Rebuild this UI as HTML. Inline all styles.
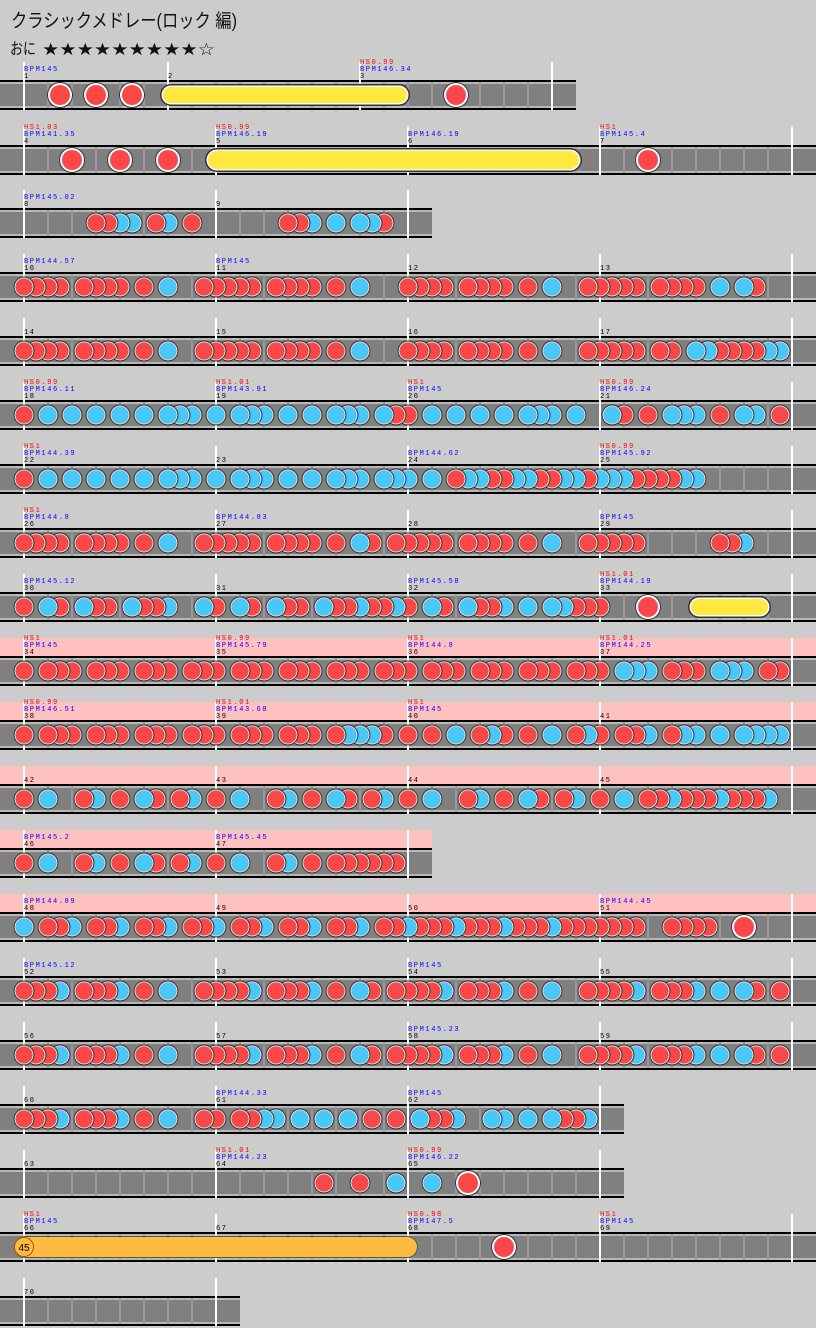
<!DOCTYPE html>
<html><head><meta charset="utf-8"><style>
html,body{margin:0;padding:0;background:#cccccc;}
svg{display:block;}
</style></head><body>
<svg id="s" width="816" height="1328" xmlns="http://www.w3.org/2000/svg">
<rect width="816" height="1328" fill="#cccccc"/>
<text x="11" y="27" font-family="Liberation Sans, Noto Sans CJK JP, sans-serif" font-size="19" textLength="226" lengthAdjust="spacingAndGlyphs" fill="#111">クラシックメドレー(ロック 編)</text>
<text x="10" y="54" font-family="Liberation Sans, Noto Sans CJK JP, sans-serif" font-size="16" textLength="26" lengthAdjust="spacingAndGlyphs" fill="#111">おに</text>
<text x="42" y="55" font-family="DejaVu Sans, sans-serif" font-size="17" textLength="173" lengthAdjust="spacingAndGlyphs" fill="#111">★★★★★★★★★☆</text>
<g id="g"></g>
</svg>
<script>
var rows=[
{w:576,ms:[[1,144,'','BPM145','...D..D..D..'],[2,192,'','',''],[3,192,'HS0.99','BPM146.34','........D.......']],rolls:[[160,410,0]]},
{w:816,ms:[[4,192,'HS1.03','BPM141.35','....D...D...D...'],[5,192,'HS0.99','BPM146.19',''],[6,192,'','BPM146.19',''],[7,192,'HS1','BPM145.4','....D...........']],rolls:[[205,582,1]]},
{w:432,ms:[[8,192,'','BPM145.02','......ddkk.dk.d.'],[9,192,'','','......ddk.k.kkd.']]},
{w:816,ms:[[10,192,'','BPM144.57','dddd.dddd.d.k..d'],[11,192,'','BPM145','dddd.dddd.d.k...'],[12,192,'','','dddd.dddd.d.k..d'],[13,192,'','','dddd.dddd.k.kd..']]},
{w:816,ms:[[14,192,'','','dddd.dddd.d.k..d'],[15,192,'','','dddd.dddd.d.k...'],[16,192,'','','dddd.dddd.d.k..d'],[17,192,'','','dddd.dd.kkddddkk']]},
{w:816,ms:[[18,192,'HS0.99','BPM146.11','d.k.k.k.k.k.kkk.'],[19,192,'HS1.01','BPM143.91','k.kkk.k.k.kkk.kd'],[20,192,'HS1','BPM145','d.k.k.k.k.kkk.k.'],[21,192,'HS0.99','BPM146.24','.kd.d.kkk.d.kk.d']]},
{w:816,ms:[[22,192,'HS1','BPM144.39','d.k.k.k.k.k.kkk.'],[23,192,'','','k.kkk.k.k.kkk.kk'],[24,192,'','BPM144.62','k.k.dkkddkkddkkd'],[25,192,'HS0.99','BPM145.92','kkkddddkk.......']]},
{w:816,ms:[[26,192,'HS1','BPM144.8','dddd.dddd.d.k..d'],[27,192,'','BPM144.83','dddd.dddd.d.kd.d'],[28,192,'','','dddd.dddd.d.k..d'],[29,192,'','BPM145','dddd......ddk...']]},
{w:816,ms:[[30,192,'','BPM145.12','d.kd.kdd.kddk..k'],[31,192,'','','d.kd.kdd.kddkddk'],[32,192,'','BPM145.58','d.kd.kddk.k.kkdd'],[33,192,'HS1.01','BPM144.19','d...D...........']],rolls:[[688,771,0]]},
{w:816,pink:1,ms:[[34,192,'HS1','BPM145','d.ddd.ddd.ddd.dd'],[35,192,'HS0.99','BPM145.79','d.ddd.ddd.ddd.dd'],[36,192,'HS1','BPM144.8','d.ddd.ddd.ddd.dd'],[37,192,'HS1.01','BPM144.25','d.kkk.ddd.kkk.dd']]},
{w:816,pink:1,ms:[[38,192,'HS0.99','BPM146.51','d.ddd.ddd.ddd.dd'],[39,192,'HS1.01','BPM143.68','d.ddd.ddd.dkkkd.'],[40,192,'HS1','BPM145','d.d.k.dkd.d.k.dk'],[41,192,'','','d.ddk.dkk.k.kkkk']]},
{w:816,pink:1,ms:[[42,192,'','','d.k..dk.d.kd.dk.'],[43,192,'','','d.k..dk.d.kd.dk.'],[44,192,'','','d.k..dk.d.kd.dk.'],[45,192,'','','d.k.ddkdddkdddk.']]},
{w:432,pink:1,ms:[[46,192,'','BPM145.2','d.k..dk.d.kd.dk.'],[47,192,'','BPM145.45','d.k..dk.d.dddddd']]},
{w:816,pink:1,ms:[[48,192,'','BPM144.89','k.ddk.ddk.ddk.dd'],[49,192,'','','k.ddk.ddk.ddk.dd'],[50,192,'','','kdddkdddkdddkddd'],[51,192,'','BPM144.45','dddd..dddd..D...']]},
{w:816,ms:[[52,192,'','BPM145.12','dddk.dddk.d.k..d'],[53,192,'','','dddk.dddk.d.kd.d'],[54,192,'','BPM145','dddk.dddk.d.k..d'],[55,192,'','','dddk.dddk.k.kd.d']]},
{w:816,ms:[[56,192,'','','dddk.dddk.d.k..d'],[57,192,'','','dddk.dddk.d.kd.d'],[58,192,'','BPM145.23','dddk.dddk.d.k..d'],[59,192,'','','dddk.dddk.k.kd.d']]},
{w:624,ms:[[60,192,'','','dddk.dddk.d.k..d'],[61,192,'','BPM144.33','d.ddkk.k.k.k.d.d'],[62,192,'','BPM145','.kddk..kk.k.kddk']]},
{w:624,ms:[[63,192,'','',''],[64,192,'HS1.01','BPM144.23','.........d..d..k'],[65,192,'HS0.99','BPM146.22','..k..D..........']]},
{w:816,ms:[[66,192,'HS1','BPM145',''],[67,192,'','',''],[68,192,'HS0.98','BPM147.5','........D.......'],[69,192,'HS1','BPM145','']],balloon:1},
{w:240,ms:[[70,192,'','','']]}
];
var o=[];
function R(x,y,w,h,f){o.push('<rect x="'+x+'" y="'+y+'" width="'+w+'" height="'+h+'" fill="'+f+'"/>');}
function C(x,y,r,f){o.push('<circle cx="'+x+'" cy="'+y+'" r="'+r+'" fill="'+f+'"/>');}
function T(x,y,s,f){o.push('<text x="'+x+'" y="'+y+'" font-family="Liberation Mono, monospace" font-size="7" letter-spacing="1.6" fill="'+f+'">'+s+'</text>');}
rows.forEach(function(r,i){
  var y0=80+64*i; if(i==1)y0=145;
  var W=r.w;
  if(r.pink)R(0,y0-18,W,18,'#ffc0c0');
  R(0,y0,W,2,'#000');R(0,y0+2,W,2,'#b8b8b8');R(0,y0+4,W,22,'#808080');R(0,y0+26,W,2,'#b8b8b8');R(0,y0+28,W,2,'#000');
  for(var x=48;x<W-24;x+=24){R(x-1,y0+2,2,26,'#9a9a9a');}
  var notes=[];var x=24;
  r.ms.forEach(function(m){
    R(x-1,y0-18,2,48,'#fff');
    T(x,y0-2,m[0],'#000');
    if(m[3])T(x,y0-9,m[3],'#0000ff');
    if(m[2])T(x,y0-16,m[2],'#ff0000');
    var p=m[4];
    for(var k=0;k<p.length;k++){var c=p[k];if(c!='.')notes.push([x+k*12,c]);}
    x+=m[1];
  });
  R(x-1,y0-18,2,48,'#fff');
  if(r.rolls)r.rolls.forEach(function(q){
    var big=q[2],h=big?24:22,yy=y0+(big?3:4);
    o.push('<rect x="'+q[0]+'" y="'+yy+'" width="'+(q[1]-q[0])+'" height="'+h+'" rx="'+h/2+'" fill="#333"/>');
    o.push('<rect x="'+(q[0]+1.5)+'" y="'+(yy+1.5)+'" width="'+(q[1]-q[0]-3)+'" height="'+(h-3)+'" rx="'+(h/2-1.5)+'" fill="#fff"/>');
    o.push('<rect x="'+(q[0]+3)+'" y="'+(yy+3)+'" width="'+(q[1]-q[0]-6)+'" height="'+(h-6)+'" rx="'+(h/2-3)+'" fill="#ffe840"/>');
  });
  if(r.balloon){
    o.push('<rect x="14" y="'+(y0+4)+'" width="404" height="22" rx="11" fill="#555"/>');
    o.push('<rect x="15" y="'+(y0+5)+'" width="402" height="20" rx="10" fill="#ffbb40"/>');
    C(24,y0+15,10,'#a06000');C(24,y0+15,9,'#ffbb40');
    o.push('<text x="24" y="'+(y0+19)+'" font-family="Liberation Sans, sans-serif" font-size="10" text-anchor="middle" fill="#000">45</text>');
  }
  for(var n=notes.length-1;n>=0;n--){
    var nx=notes[n][0],c=notes[n][1],cy=y0+15;
    var col=(c=='d'||c=='D')?'#f84848':'#48c8f8';
    if(c=='D'||c=='K'){C(nx,cy,13,'#333');C(nx,cy,12,'#fff');C(nx,cy,10,col);}
    else{C(nx,cy,10.5,'#333');C(nx,cy,9.5,'#ddd');C(nx,cy,8.5,col);}
  }
});
document.getElementById('g').innerHTML=o.join('');
</script>
</body></html>
